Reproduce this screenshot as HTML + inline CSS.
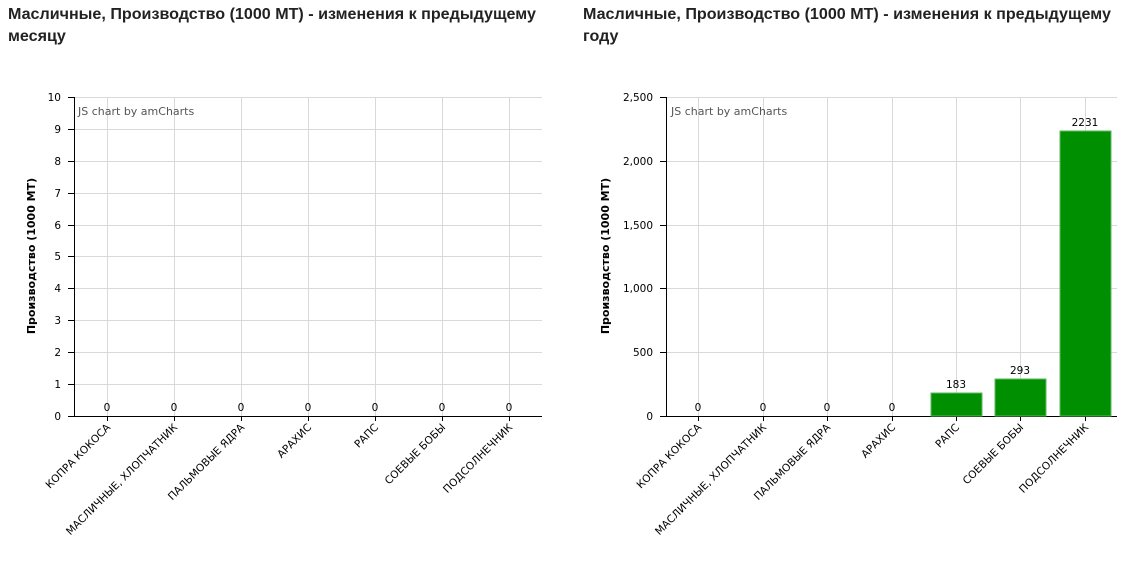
<!DOCTYPE html>
<html><head><meta charset="utf-8"><style>
body{margin:0;background:#fff;width:1127px;height:561px;overflow:hidden;font-family:"Liberation Sans",sans-serif}
.t{position:absolute;top:3px;font-weight:bold;font-size:16.1px;line-height:22px;color:#222;width:545px}
svg{position:absolute;left:0;top:0}
svg text{font-family:"DejaVu Sans",sans-serif;font-size:10.5px;fill:#000}
</style></head><body>
<div class="t" style="left:8px">Масличные, Производство (1000 МТ) - изменения к предыдущему месяцу</div>
<div class="t" style="left:583px">Масличные, Производство (1000 МТ) - изменения к предыдущему году</div>
<svg width="1127" height="561">
<g stroke="#d9d9d9" stroke-width="1">
<line x1="74" x2="542" y1="97.5" y2="97.5"/><line x1="74" x2="542" y1="129.5" y2="129.5"/><line x1="74" x2="542" y1="161.5" y2="161.5"/><line x1="74" x2="542" y1="193.5" y2="193.5"/><line x1="74" x2="542" y1="225.5" y2="225.5"/><line x1="74" x2="542" y1="256.5" y2="256.5"/><line x1="74" x2="542" y1="288.5" y2="288.5"/><line x1="74" x2="542" y1="320.5" y2="320.5"/><line x1="74" x2="542" y1="352.5" y2="352.5"/><line x1="74" x2="542" y1="384.5" y2="384.5"/>
<line x1="107.5" x2="107.5" y1="97" y2="416"/><line x1="174.5" x2="174.5" y1="97" y2="416"/><line x1="241.5" x2="241.5" y1="97" y2="416"/><line x1="308.5" x2="308.5" y1="97" y2="416"/><line x1="375.5" x2="375.5" y1="97" y2="416"/><line x1="442.5" x2="442.5" y1="97" y2="416"/><line x1="509.5" x2="509.5" y1="97" y2="416"/>
<line x1="666" x2="1117" y1="97.5" y2="97.5"/><line x1="666" x2="1117" y1="161.5" y2="161.5"/><line x1="666" x2="1117" y1="225.5" y2="225.5"/><line x1="666" x2="1117" y1="288.5" y2="288.5"/><line x1="666" x2="1117" y1="352.5" y2="352.5"/>
<line x1="698.5" x2="698.5" y1="97" y2="416"/><line x1="763.5" x2="763.5" y1="97" y2="416"/><line x1="827.5" x2="827.5" y1="97" y2="416"/><line x1="892.5" x2="892.5" y1="97" y2="416"/><line x1="956.5" x2="956.5" y1="97" y2="416"/><line x1="1020.5" x2="1020.5" y1="97" y2="416"/><line x1="1085.5" x2="1085.5" y1="97" y2="416"/>
</g>
<g stroke="#000" stroke-width="1">
<line x1="74.5" x2="74.5" y1="97" y2="416"/><line x1="74" x2="542" y1="416.5" y2="416.5"/>
<path d="M68 97.5h6M68 129.5h6M68 161.5h6M68 193.5h6M68 225.5h6M68 256.5h6M68 288.5h6M68 320.5h6M68 352.5h6M68 384.5h6M68 416.5h6"/>
<path d="M107.5 416v5M174.5 416v5M241.5 416v5M308.5 416v5M375.5 416v5M442.5 416v5M509.5 416v5"/>
<line x1="666.5" x2="666.5" y1="97" y2="416"/><line x1="666" x2="1117" y1="416.5" y2="416.5"/>
<path d="M660 97.5h6M660 161.5h6M660 225.5h6M660 288.5h6M660 352.5h6M660 416.5h6"/>
<path d="M698.5 416v5M763.5 416v5M827.5 416v5M892.5 416v5M956.5 416v5M1020.5 416v5M1085.5 416v5"/>
</g>
<g fill="#008f00" stroke="#5fb85f" stroke-width="1">
<rect x="931" y="393" width="51" height="23"/><rect x="995" y="379" width="51" height="37"/><rect x="1060" y="131" width="51" height="285"/>
</g>
<g text-anchor="end">
<text x="61" y="101">10</text><text x="61" y="133">9</text><text x="61" y="165">8</text><text x="61" y="197">7</text><text x="61" y="229">6</text><text x="61" y="260">5</text><text x="61" y="292">4</text><text x="61" y="324">3</text><text x="61" y="356">2</text><text x="61" y="388">1</text><text x="61" y="420">0</text>
<text x="653" y="101">2,500</text><text x="653" y="165">2,000</text><text x="653" y="229">1,500</text><text x="653" y="292">1,000</text><text x="653" y="356">500</text><text x="653" y="420">0</text>
</g>
<g text-anchor="middle">
<text x="107" y="411">0</text><text x="174" y="411">0</text><text x="241" y="411">0</text><text x="308" y="411">0</text><text x="375" y="411">0</text><text x="442" y="411">0</text><text x="509" y="411">0</text>
<text x="698" y="411">0</text><text x="763" y="411">0</text><text x="827" y="411">0</text><text x="892" y="411">0</text><text x="956" y="388">183</text><text x="1020" y="374">293</text><text x="1085" y="126">2231</text>
</g>
<text x="78" y="115" style="fill:#555;font-size:11px">JS chart by amCharts</text>
<text x="671" y="115" style="fill:#555;font-size:11px">JS chart by amCharts</text>
<text transform="translate(35,256) rotate(-90)" text-anchor="middle" style="font-weight:bold;font-size:11px">Производство (1000 МТ)</text>
<text transform="translate(609,256) rotate(-90)" text-anchor="middle" style="font-weight:bold;font-size:11px">Производство (1000 МТ)</text>
<g text-anchor="end" style="font-size:11px">
<text transform="translate(111,428) rotate(-45)">КОПРА КОКОСА</text>
<text transform="translate(178,428) rotate(-45)">МАСЛИЧНЫЕ, ХЛОПЧАТНИК</text>
<text transform="translate(245,428) rotate(-45)">ПАЛЬМОВЫЕ ЯДРА</text>
<text transform="translate(312,428) rotate(-45)">АРАХИС</text>
<text transform="translate(379,428) rotate(-45)">РАПС</text>
<text transform="translate(446,428) rotate(-45)">СОЕВЫЕ БОБЫ</text>
<text transform="translate(513,428) rotate(-45)">ПОДСОЛНЕЧНИК</text>
<text transform="translate(702,428) rotate(-45)">КОПРА КОКОСА</text>
<text transform="translate(767,428) rotate(-45)">МАСЛИЧНЫЕ, ХЛОПЧАТНИК</text>
<text transform="translate(831,428) rotate(-45)">ПАЛЬМОВЫЕ ЯДРА</text>
<text transform="translate(896,428) rotate(-45)">АРАХИС</text>
<text transform="translate(960,428) rotate(-45)">РАПС</text>
<text transform="translate(1024,428) rotate(-45)">СОЕВЫЕ БОБЫ</text>
<text transform="translate(1089,428) rotate(-45)">ПОДСОЛНЕЧНИК</text>
</g>
</svg>
</body></html>
